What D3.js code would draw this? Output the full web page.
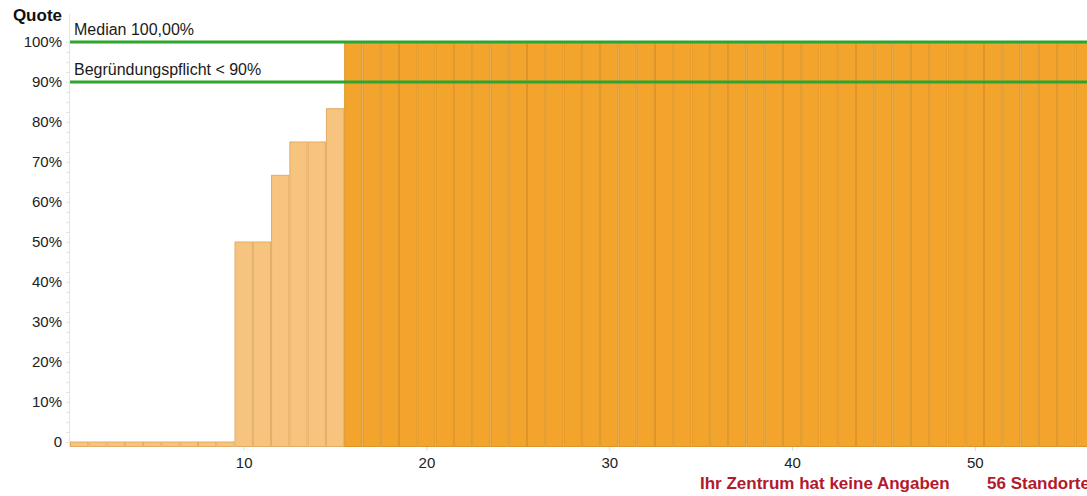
<!DOCTYPE html>
<html>
<head>
<meta charset="utf-8">
<script src="https://cdn.jsdelivr.net/npm/d3@7"></script>
<style>
  html, body { margin: 0; padding: 0; background: #fff; overflow: hidden; }
  svg { display: block; font-family: "Liberation Sans", Arial, sans-serif; }
</style>
</head>
<body>
<svg id="chart" width="1087" height="496"></svg>
<script>
// Quote je Standort (in %), aufsteigend sortiert
const sites = d3.range(1, 57);
const quotes = [
  0, 0, 0, 0, 0, 0, 0, 0, 0,
  50, 50, 66.67, 75, 75, 83.33,
  100, 100, 100, 100, 100, 100, 100, 100, 100, 100,
  100, 100, 100, 100, 100, 100, 100, 100, 100, 100,
  100, 100, 100, 100, 100, 100, 100, 100, 100, 100,
  100, 100, 100, 100, 100, 100, 100, 100, 100, 100,
  100
];
// Standorte unterhalb der Begründungsschwelle werden hell dargestellt
const threshold = 90;
const median = 100;
const yTicks = [0, 10, 20, 30, 40, 50, 60, 70, 80, 90, 100];
const xTicks = [10, 20, 30, 40, 50];
const refLines = [
  { value: median, label: "Median 100,00%" },
  { value: threshold, label: "Begründungspflicht < 90%" }
];
const footer = ["Ihr Zentrum hat keine Angaben", "56 Standorte"];

const svg = d3.select("#chart");
const left = 70, barW = 18.28;
const x = d3.scaleLinear().domain([0.5, 56.5]).range([left, left + 56 * barW]);
const y = d3.scaleLinear().domain([0, 100]).range([442, 42]);
const base = 446.5;

// y-Achse: Linie und feine Zwischenstriche
svg.append("line")
  .attr("x1", left - 0.5).attr("x2", left - 0.5)
  .attr("y1", 14).attr("y2", base)
  .attr("stroke", "#e4e4e4").attr("stroke-width", 1);

const minor = d3.range(0, 102.5, 2.5);
svg.append("g").selectAll("line").data(minor).join("line")
  .attr("x1", left - 4).attr("x2", left - 1)
  .attr("y1", d => Math.round(y(d)) + 0.5).attr("y2", d => Math.round(y(d)) + 0.5)
  .attr("stroke", "#e6e6e6");

const yAxis = svg.append("g")
  .attr("transform", `translate(${left - 1},0)`)
  .call(d3.axisLeft(y).tickValues(yTicks).tickSize(0).tickPadding(7)
    .tickFormat(d => d === 0 ? "0" : d + "%"));
yAxis.select(".domain").remove();
yAxis.selectAll("text")
  .attr("font-size", 15).attr("fill", "#222")
  .attr("font-family", "Liberation Sans, Arial, sans-serif")
  .attr("dy", "0.32em");

svg.append("text")
  .attr("x", 62).attr("y", 21)
  .attr("text-anchor", "end")
  .attr("font-size", 17).attr("font-weight", "bold").attr("fill", "#111")
  .text("Quote");

// Balken
const data = sites.map((s, i) => ({ site: s, value: quotes[i] }));
svg.append("g").selectAll("rect").data(data).join("rect")
  .attr("x", d => x(d.site - 0.5) + 0.5)
  .attr("width", barW - 1)
  .attr("y", d => y(d.value))
  .attr("height", d => base - y(d.value))
  .attr("fill", d => d.value < threshold ? "#f6c47f" : "#f2a42c")
  .attr("stroke", d => d.value < threshold ? "#e3ab63" : "#dd9426")
  .attr("stroke-width", 1);

// x-Achse
const xAxis = svg.append("g")
  .attr("transform", `translate(0,${base + 0.5})`)
  .call(d3.axisBottom(x).tickValues(xTicks).tickSize(4).tickPadding(6).tickFormat(d3.format("d")));
xAxis.select(".domain").remove();
xAxis.selectAll(".tick line").attr("stroke", "#dcdcdc");
xAxis.selectAll("text")
  .attr("font-size", 15).attr("fill", "#222")
  .attr("font-family", "Liberation Sans, Arial, sans-serif");

// Referenzlinien
const refs = svg.append("g");
refs.selectAll("line").data(refLines).join("line")
  .attr("x1", left).attr("x2", x(56.5))
  .attr("y1", d => y(d.value)).attr("y2", d => y(d.value))
  .attr("stroke", "#2ea52e").attr("stroke-width", 3);
refs.selectAll("text").data(refLines).join("text")
  .attr("x", left + 4).attr("y", d => y(d.value) - 7)
  .attr("font-size", 16).attr("fill", "#1a1a1a")
  .text(d => d.label);

// Fußzeile
svg.append("text")
  .attr("x", 700).attr("y", 489)
  .attr("font-size", 17).attr("font-weight", "bold").attr("fill", "#b21a2c")
  .text(footer[0]);
svg.append("text")
  .attr("x", 987).attr("y", 489)
  .attr("font-size", 17).attr("font-weight", "bold").attr("fill", "#b21a2c")
  .text(footer[1]);
</script>
</body>
</html>
